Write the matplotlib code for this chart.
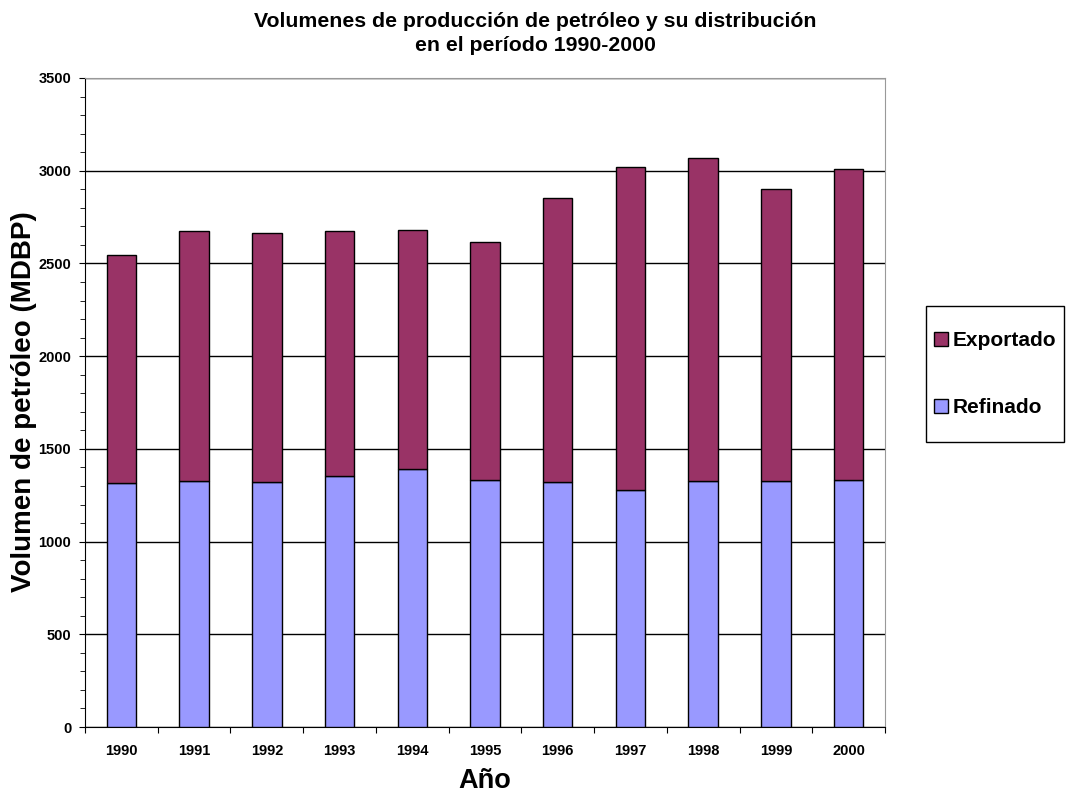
#!/usr/bin/env python
import numpy as np
import matplotlib.pyplot as plt
from matplotlib.patches import Rectangle
from matplotlib.ticker import MultipleLocator, FixedLocator

plt.rcParams['font.family'] = ['Liberation Sans', 'DejaVu Sans']
plt.rcParams['font.weight'] = 'bold'

# production volumes (MDBP)
anios = ['1990', '1991', '1992', '1993', '1994', '1995',
         '1996', '1997', '1998', '1999', '2000']
refinado = np.array([1317, 1328, 1322, 1353, 1392, 1331, 1322, 1276, 1328, 1326, 1330])
exportado = np.array([1230, 1345, 1344, 1320, 1290, 1283, 1533, 1743, 1741, 1576, 1678])

fig = plt.figure(figsize=(10.67, 7.95), dpi=100)
ax = fig.add_axes([0.0797, 0.0855, 0.7497, 0.8164])

x = np.arange(len(anios))
ax.bar(x, refinado, 0.405, color='#9999FF', edgecolor='black', linewidth=1,
       label='Refinado', zorder=3)
ax.bar(x, exportado, 0.405, bottom=refinado, color='#993366', edgecolor='black',
       linewidth=1, label='Exportado', zorder=3)

ax.set_xlim(-0.5, len(anios) - 0.5)
ax.set_ylim(0, 3500)
ax.yaxis.set_major_locator(MultipleLocator(500))
ax.yaxis.set_minor_locator(MultipleLocator(100))
ax.grid(axis='y', which='major', color='black', linewidth=1, zorder=0)

# ticks between categories, labels centred under bars
ax.xaxis.set_major_locator(FixedLocator(np.arange(len(anios) + 1) - 0.5))
ax.xaxis.set_minor_locator(FixedLocator(x))
ax.set_xticklabels([''] * (len(anios) + 1))
ax.set_xticklabels(anios, minor=True)
ax.tick_params(axis='x', which='major', length=4, direction='out')
ax.tick_params(axis='x', which='minor', length=0, pad=12, labelsize=10.5)
ax.tick_params(axis='y', which='major', length=4, labelsize=10.5, pad=6)
ax.tick_params(axis='y', which='minor', length=3.5)
for lab in ax.get_yticklabels() + ax.get_xticklabels(minor=True):
    lab.set_fontweight('bold')

ax.spines['top'].set_color('#999999')
ax.spines['right'].set_color('#999999')

ax.set_xlabel('Año', fontsize=19.5, fontweight='bold', va='center')
ax.xaxis.set_label_coords(0.499, -0.083)
ax.set_ylabel('Volumen de petróleo (MDBP)', fontsize=20, fontweight='bold', va='center')
ax.yaxis.set_label_coords(-0.076, 0.502)

fig.text(0.5015, 0.958,
         'Volumenes de producción de petróleo y su distribución\nen el período 1990-2000',
         ha='center', va='center', multialignment='center',
         fontsize=15.3, fontweight='bold', linespacing=1.3)

# legend box
fig.patches.append(Rectangle((926 / 1067, 1 - 442 / 795), 138 / 1067, 136 / 795,
                             transform=fig.transFigure, facecolor='white',
                             edgecolor='black', linewidth=1))
handles, labels = ax.get_legend_handles_labels()
leg = fig.legend(handles[::-1], labels[::-1], loc='center',
                 bbox_to_anchor=(995 / 1067, 1 - 374 / 795), fontsize=15,
                 frameon=False, labelspacing=2.3, handlelength=0.67,
                 handleheight=0.67, handletextpad=0.2, borderpad=0,
                 borderaxespad=0)
for t in leg.get_texts():
    t.set_fontweight('bold')

fig.savefig('out.png', dpi=100)
